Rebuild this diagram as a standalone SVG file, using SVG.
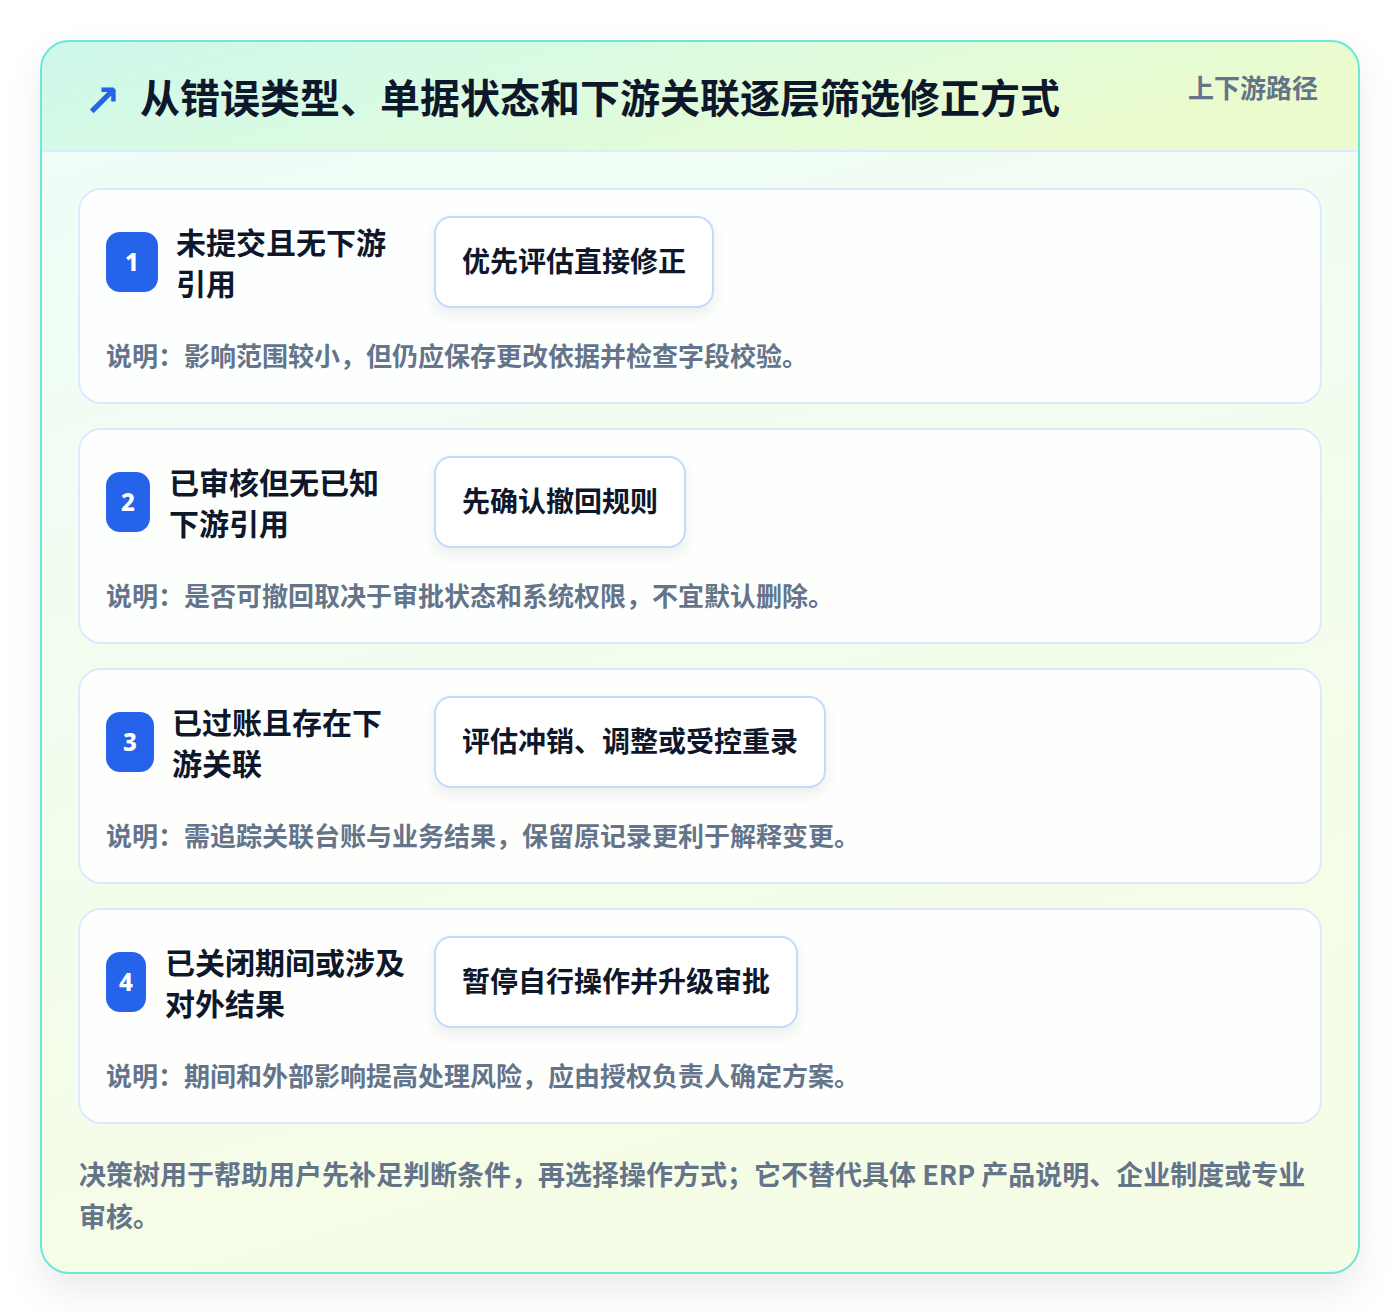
<svg xmlns="http://www.w3.org/2000/svg" width="1400" height="1314" viewBox="0 0 1400 1314">
<defs>
<linearGradient id="hdr" x1="0" y1="0" x2="1" y2="0.3">
<stop offset="0" stop-color="#cdf8ec"/>
<stop offset="0.5" stop-color="#dcfbe0"/>
<stop offset="1" stop-color="#ecfbcd"/>
</linearGradient>
<linearGradient id="bdy" x1="0" y1="0" x2="0.3" y2="1">
<stop offset="0" stop-color="#effdf9"/>
<stop offset="1" stop-color="#f6fde6"/>
</linearGradient>
<clipPath id="cardclip"><rect x="41" y="41" width="1318" height="1232" rx="28"/></clipPath>
<filter id="sh" x="-10%" y="-10%" width="120%" height="125%">
<feDropShadow dx="0" dy="18" stdDeviation="18" flood-color="#0f172a" flood-opacity="0.08"/>
</filter>
<filter id="sh2" x="-20%" y="-30%" width="140%" height="170%">
<feDropShadow dx="0" dy="6" stdDeviation="7" flood-color="#0f172a" flood-opacity="0.07"/>
</filter>
</defs>
<style>
.row{fill:#ffffff;fill-opacity:0.85;stroke:#dbeafe;stroke-width:2}
.badge{fill:#2563eb}
.num{font-family:"Noto Sans","Open Sans",sans-serif;font-weight:800;font-size:24px;fill:#ffffff;text-anchor:middle}
.cond{font-family:"Noto Sans CJK SC","Noto Sans",sans-serif;font-weight:700;font-size:30px;fill:#0f172a}
.act{fill:#ffffff;stroke:#bfdbfe;stroke-width:2}
.acttx{font-family:"Noto Sans CJK SC","Noto Sans",sans-serif;font-weight:700;font-size:28px;fill:#0f172a}
.desc{font-family:"Noto Sans CJK SC","Noto Sans",sans-serif;font-weight:700;font-size:26px;fill:#64748b}
.foot{font-family:"Noto Sans CJK SC","Noto Sans",sans-serif;font-weight:700;font-size:27px;fill:#64748b}
</style>
<rect width="1400" height="1314" fill="#ffffff"/>
<g id="card">
<rect x="41" y="41" width="1318" height="1232" rx="28" fill="url(#bdy)" filter="url(#sh)"/>
<g clip-path="url(#cardclip)">
<rect x="41" y="41" width="1318" height="110" fill="url(#hdr)"/>
</g>
<line x1="41" y1="151" x2="1359" y2="151" stroke="#dbeafe" stroke-width="2"/>
<rect x="41" y="41" width="1318" height="1232" rx="28" fill="none" stroke="#6ee7d4" stroke-width="2"/>
</g>
<g id="header">
<text x="84" y="116" font-family="DejaVu Sans,sans-serif" font-size="44" font-weight="700" fill="#2563eb">↗</text>
<text x="140" y="113" font-family="Noto Sans CJK SC,sans-serif" font-weight="700" font-size="40" fill="#0f172a">从错误类型、单据状态和下游关联逐层筛选修正方式</text>
<text x="1318" y="98" text-anchor="end" font-family="Noto Sans CJK SC,sans-serif" font-weight="700" font-size="26" fill="#64748b">上下游路径</text>
</g>
<g id="connectors"></g>
<g id="step1">
<rect class="row" x="79" y="189" width="1242" height="214" rx="22"/>
<rect class="badge" x="106" y="232" width="52" height="60" rx="14"/>
<text class="num" x="132" y="271">1</text>
<text class="cond" x="176" y="254">未提交且无下游</text>
<text class="cond" x="176" y="295">引用</text>
<rect class="act" x="435" y="217" width="278" height="90" rx="16" filter="url(#sh2)"/>
<text class="acttx" x="462" y="272">优先评估直接修正</text>
<text class="desc" x="106" y="366">说明：影响范围较小，但仍应保存更改依据并检查字段校验。</text>
</g>
<g id="step2">
<rect class="row" x="79" y="429" width="1242" height="214" rx="22"/>
<rect class="badge" x="106" y="472" width="44" height="60" rx="14"/>
<text class="num" x="128" y="511">2</text>
<text class="cond" x="169" y="494">已审核但无已知</text>
<text class="cond" x="169" y="535">下游引用</text>
<rect class="act" x="435" y="457" width="250" height="90" rx="16" filter="url(#sh2)"/>
<text class="acttx" x="462" y="512">先确认撤回规则</text>
<text class="desc" x="106" y="606">说明：是否可撤回取决于审批状态和系统权限，不宜默认删除。</text>
</g>
<g id="step3">
<rect class="row" x="79" y="669" width="1242" height="214" rx="22"/>
<rect class="badge" x="106" y="712" width="48" height="60" rx="14"/>
<text class="num" x="130" y="751">3</text>
<text class="cond" x="172" y="734">已过账且存在下</text>
<text class="cond" x="172" y="775">游关联</text>
<rect class="act" x="435" y="697" width="390" height="90" rx="16" filter="url(#sh2)"/>
<text class="acttx" x="462" y="752">评估冲销、调整或受控重录</text>
<text class="desc" x="106" y="846">说明：需追踪关联台账与业务结果，保留原记录更利于解释变更。</text>
</g>
<g id="step4">
<rect class="row" x="79" y="909" width="1242" height="214" rx="22"/>
<rect class="badge" x="106" y="952" width="40" height="60" rx="14"/>
<text class="num" x="126" y="991">4</text>
<text class="cond" x="165" y="974">已关闭期间或涉及</text>
<text class="cond" x="165" y="1015">对外结果</text>
<rect class="act" x="435" y="937" width="362" height="90" rx="16" filter="url(#sh2)"/>
<text class="acttx" x="462" y="992">暂停自行操作并升级审批</text>
<text class="desc" x="106" y="1086">说明：期间和外部影响提高处理风险，应由授权负责人确定方案。</text>
</g>
<g id="footer">
<text class="foot" x="79" y="1185">决策树用于帮助用户先补足判断条件，再选择操作方式；它不替代具体 ERP 产品说明、企业制度或专业</text>
<text class="foot" x="79" y="1227">审核。</text>
</g>
</svg>
